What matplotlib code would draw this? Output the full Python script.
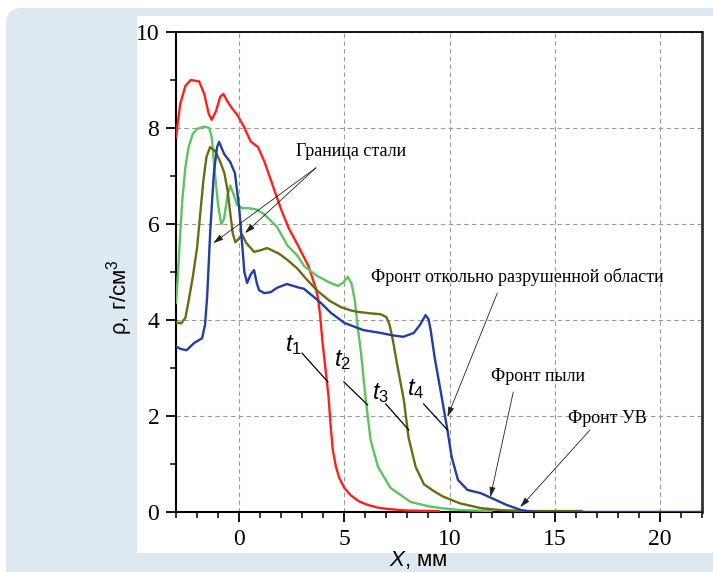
import matplotlib
matplotlib.use("Agg")
import matplotlib.pyplot as plt
from matplotlib.patches import FancyBboxPatch, Rectangle
from matplotlib.ticker import MultipleLocator

# ---- data ----
red_x = [-3, -2.8, -2.55, -2.3, -1.9, -1.65, -1.45, -1.3, -1.1, -0.9, -0.75, -0.55, -0.35, -0.1,
         0.2, 0.55, 0.9, 1.2, 1.6, 2.0, 2.35, 2.8, 3.3, 3.5, 3.65, 3.75, 3.85, 3.95, 4.1, 4.25,
         4.35, 4.45, 4.6, 4.75, 5.0, 5.3, 5.7, 6.1, 6.6, 7.1, 8.0, 9.5]
red_y = [7.8, 8.5, 8.88, 9.0, 8.97, 8.7, 8.3, 8.17, 8.35, 8.65, 8.71, 8.55, 8.42, 8.28,
         8.05, 7.72, 7.6, 7.3, 6.8, 6.3, 5.92, 5.55, 5.12, 4.85, 4.65, 4.45, 4.1, 3.6, 3.0, 2.4,
         1.8, 1.3, 0.95, 0.72, 0.5, 0.35, 0.22, 0.15, 0.09, 0.06, 0.03, 0.02]

green_x = [-3, -2.9, -2.8, -2.7, -2.55, -2.4, -2.2, -2.0, -1.66, -1.42, -1.3, -1.14, -1.0, -0.85,
           -0.72, -0.55, -0.42, -0.25, -0.1, 0.15, 0.45, 0.85, 1.2, 1.8, 2.3, 2.75, 3.1, 3.7,
           4.3, 4.7, 4.95, 5.17, 5.35, 5.5, 5.65, 5.78, 6.02, 6.25, 6.6, 7.2, 8.15, 9.0, 9.6,
           10.5, 12.0]
green_y = [4.35, 5.0, 5.8, 6.5, 7.2, 7.6, 7.88, 7.98, 8.03, 8.0, 7.8, 7.0, 6.4, 6.0,
           6.1, 6.6, 6.8, 6.6, 6.4, 6.33, 6.33, 6.3, 6.2, 5.94, 5.55, 5.35, 5.12, 4.92,
           4.78, 4.71, 4.78, 4.9, 4.75, 4.4, 3.8, 3.37, 2.33, 1.5, 0.94, 0.5, 0.21, 0.12, 0.08,
           0.04, 0.02]

olive_x = [-3, -2.75, -2.55, -2.4, -2.2, -2.0, -1.85, -1.7, -1.55, -1.38, -1.14, -0.9, -0.7,
           -0.55, -0.42, -0.3, -0.18, 0.0, 0.14, 0.35, 0.71, 1.0, 1.33, 1.9, 2.3, 2.75, 3.2,
           3.74, 4.3, 4.83, 5.3, 5.64, 6.2, 6.73, 7.0, 7.15, 7.3, 7.5, 7.83, 8.05, 8.39, 8.78,
           9.2, 9.7, 10.5, 11.5, 12.4, 13.5, 16.3]
olive_y = [3.95, 3.93, 4.05, 4.4, 4.9, 5.5, 6.2, 6.9, 7.4, 7.6, 7.52, 7.3, 7.06,
           6.7, 6.22, 5.8, 5.62, 5.7, 5.78, 5.6, 5.42, 5.45, 5.5, 5.38, 5.25, 5.08, 4.85,
           4.6, 4.4, 4.27, 4.2, 4.17, 4.14, 4.12, 4.06, 3.9, 3.6, 3.1, 2.33, 1.56, 0.94, 0.58,
           0.45, 0.32, 0.18, 0.08, 0.04, 0.02, 0.02]

blue_x = [-3, -2.8, -2.5, -2.14, -1.76, -1.62, -1.52, -1.37, -1.2, -1.05, -0.95, -0.8, -0.7,
          -0.42, -0.2, 0.0, 0.14, 0.25, 0.38, 0.55, 0.71, 0.85, 0.95, 1.2, 1.5, 1.8, 2.27, 2.8,
          3.08, 3.55, 3.9, 4.36, 5.0, 5.9, 6.73, 7.3, 7.8, 8.3, 8.6, 8.86, 9.0, 9.1, 9.3, 9.57,
          9.9, 10.1, 10.4, 10.85, 11.5, 12.1, 12.7, 13.4, 14.0, 22.0]
blue_y = [3.45, 3.4, 3.37, 3.52, 3.62, 3.9, 4.48, 5.87, 7.06, 7.6, 7.71, 7.55, 7.45,
          7.29, 7.06, 6.35, 5.6, 5.0, 4.77, 4.95, 5.04, 4.75, 4.62, 4.56, 4.58, 4.67, 4.75, 4.68,
          4.65, 4.48, 4.35, 4.15, 3.94, 3.79, 3.73, 3.68, 3.65, 3.73, 3.9, 4.1, 4.02, 3.8, 3.2, 2.54,
          1.71, 1.15, 0.67, 0.46, 0.39, 0.27, 0.15, 0.04, 0.0, 0.0]

series = [
    (red_x, red_y, "#ff1f1f"),
    (green_x, green_y, "#5cc45c"),
    (olive_x, olive_y, "#6b6b14"),
    (blue_x, blue_y, "#1f3fa3"),
]

x_ticks = [0, 5, 10, 15, 20]
y_ticks = [0, 2, 4, 6, 8, 10]

t_labels = ["$t_1$", "$t_2$", "$t_3$", "$t_4$"]
t_label_pos = [(2.56, 3.48), (4.93, 3.17), (6.73, 2.48), (8.39, 2.56)]
t_leaders = [((2.99, 3.31), (4.22, 2.71)), ((4.98, 2.71), (6.11, 2.23)),
             ((6.97, 2.25), (8.06, 1.71)), ((8.77, 2.25), (9.9, 1.71))]

steel_text = "Граница стали"
steel_text_pos = (5.3, 7.52)
steel_arrow_start = (3.65, 7.17)
steel_arrow_ends = [(-1.23, 5.6), (0.28, 5.81)]

fronts = [
    ("Фронт откольно разрушенной области", (13.2, 4.9), (12.27, 4.56), (9.9, 1.98)),
    ("Фронт пыли", (14.2, 2.83), (13.03, 2.5), (11.94, 0.31)),
    ("Фронт УВ", (17.5, 1.95), (16.68, 1.71), (13.36, 0.1)),
]

# ---- figure ----
W, H = 713, 572
fig = plt.figure(figsize=(W / 100, H / 100), dpi=100)
fig.patch.set_facecolor("white")

plt.rcParams["mathtext.fontset"] = "custom"
plt.rcParams["mathtext.it"] = "Liberation Sans:italic"
plt.rcParams["mathtext.rm"] = "Liberation Sans"

# background panels in pixel-based inch coordinates (100 px per inch)
px = fig.dpi_scale_trans
bg = FancyBboxPatch((6 / 100, -0.3), (W + 60) / 100, (H - 8) / 100 + 0.3,
                    boxstyle="round,pad=0,rounding_size=0.16",
                    transform=px, facecolor="#dde8f0", edgecolor="none", zorder=0)
fig.patches.append(bg)
white = Rectangle((137 / 100, (H - 553) / 100), (W - 137 + 10) / 100, (553 - 16) / 100,
                  transform=px, facecolor="white", edgecolor="none", zorder=1)
fig.patches.append(white)

ax = fig.add_axes([176 / W, 1 - 512 / H, (702 - 176) / W, (512 - 32) / H])
ax.set_zorder(2)
ax.set_facecolor("none")

for xs, ys, c in series:
    ax.plot(xs, ys, color=c, lw=1.7, solid_capstyle="round", solid_joinstyle="round", zorder=3)

ax.set_xlim(-3, 22)
ax.set_ylim(0, 10)
ax.set_xticks(x_ticks)
ax.set_yticks(y_ticks)
ax.xaxis.set_minor_locator(MultipleLocator(1))
ax.yaxis.set_minor_locator(MultipleLocator(1))
ax.tick_params(which="major", direction="out", length=7, width=1.3, pad=5,
               labelsize=17, top=False, right=False)
ax.tick_params(which="minor", direction="out", length=4, width=1.1, top=False, right=False)
for lab in ax.get_xticklabels() + ax.get_yticklabels():
    lab.set_fontfamily("Liberation Serif")
ax.tick_params(axis="x", which="major", pad=5)

for s in ["left", "bottom"]:
    ax.spines[s].set_linewidth(1.5)
ax.spines["top"].set_linewidth(1.3)
ax.spines["right"].set_linewidth(2.0)
ax.spines["right"].set_color("#333333")

ax.grid(True, which="major", color="#9a9a9a", ls=(0, (4, 3)), lw=0.8)
ax.set_axisbelow(True)

# labels
fig.text(418 / W, 1 - 566 / H, "$X$, мм", fontsize=16, family="Liberation Sans",
         ha="center", va="baseline")
fig.text(120 / W, 1 - 297 / H, "ρ, г/см$^3$", fontsize=16, family="Liberation Sans",
         rotation=90, ha="center", va="center")

arrow_kw = dict(arrowstyle="-|>,head_length=0.6,head_width=0.18", color="#222222",
                lw=0.6, shrinkA=0, shrinkB=0)

# t labels
for lab, (tx, ty), (p0, p1) in zip(t_labels, t_label_pos, t_leaders):
    ax.text(tx, ty, lab, fontsize=17, ha="center", va="center", zorder=5)
    ax.plot([p0[0], p1[0]], [p0[1], p1[1]], color="black", lw=0.9, zorder=4)

# steel boundary
ax.text(*steel_text_pos, steel_text, fontsize=13, family="Liberation Serif",
        ha="center", va="center", zorder=5)
for end in steel_arrow_ends:
    ax.annotate("", xy=end, xytext=steel_arrow_start, arrowprops=arrow_kw, zorder=5)

for txt, tpos, a0, a1 in fronts:
    ax.text(*tpos, txt, fontsize=13, family="Liberation Serif", ha="center", va="center",
            zorder=5)
    ax.annotate("", xy=a1, xytext=a0, arrowprops=arrow_kw, zorder=5)

fig.savefig("out.png", dpi=100, facecolor=fig.get_facecolor())
